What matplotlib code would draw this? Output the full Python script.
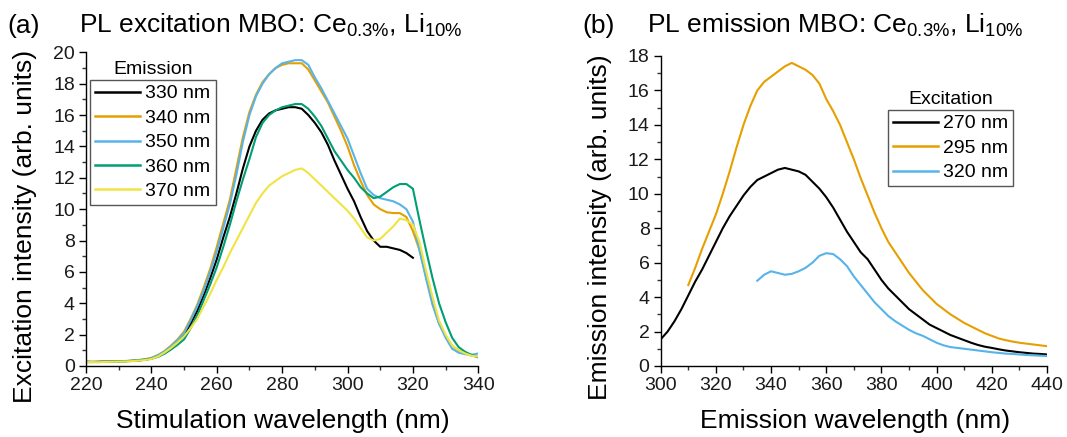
import matplotlib
matplotlib.use("Agg")
import matplotlib.pyplot as plt
import numpy as np
from matplotlib.ticker import MultipleLocator

plt.rcParams['font.family'] = ['Liberation Sans', 'DejaVu Sans']
plt.rcParams['mathtext.default'] = 'regular'

# ---------------- Panel (a): PL excitation ----------------
exc_wl = [220, 222, 224, 226, 228, 230, 232, 234, 236, 238,
          240, 242, 244, 246, 248, 250, 252, 254, 256, 258,
          260, 262, 264, 266, 268, 270, 272, 274, 276, 278,
          280, 282, 284, 286, 288, 290, 292, 294, 296, 298,
          300, 302, 304, 306, 308, 310, 312, 314, 316, 318,
          320, 322, 324, 326, 328, 330, 332, 334, 336, 338, 340]

em330 = [0.27, 0.26, 0.27, 0.28, 0.29, 0.30, 0.31, 0.33, 0.36, 0.40,
         0.48, 0.62, 0.85, 1.15, 1.55, 2.0, 2.7, 3.5, 4.5, 5.6,
         6.8, 8.2, 9.5, 11.0, 12.6, 14.0, 15.0, 15.7, 16.1, 16.3,
         16.4, 16.5, 16.5, 16.4, 16.0, 15.5, 14.9, 14.1, 13.1, 12.2,
         11.3, 10.5, 9.5, 8.6, 8.0, 7.6, 7.6, 7.5, 7.4, 7.2,
         6.9]

em340 = [0.27, 0.26, 0.26, 0.28, 0.29, 0.31, 0.32, 0.34, 0.38, 0.43,
         0.52, 0.70, 0.95, 1.30, 1.70, 2.2, 3.0, 3.9, 5.0, 6.2,
         7.6, 9.1, 10.6, 12.6, 14.6, 16.2, 17.3, 18.1, 18.6, 19.0,
         19.2, 19.3, 19.3, 19.3, 18.9, 18.2, 17.5, 16.8, 15.9, 15.0,
         14.0, 12.8, 11.8, 10.9, 10.3, 10.0, 9.8, 9.75, 9.75, 9.5,
         8.6, 7.4, 5.7, 4.0, 2.7, 1.9, 1.3, 0.95, 0.8, 0.65, 0.6]

em350 = [0.26, 0.26, 0.25, 0.27, 0.28, 0.30, 0.31, 0.33, 0.37, 0.42,
         0.50, 0.68, 0.92, 1.25, 1.65, 2.1, 2.9, 3.8, 4.8, 6.0,
         7.3, 8.8, 10.3, 12.2, 14.3, 16.0, 17.2, 18.0, 18.6, 19.0,
         19.3, 19.4, 19.5, 19.5, 19.2, 18.4, 17.7, 16.9, 16.1, 15.3,
         14.5, 13.4, 12.3, 11.3, 10.9, 10.7, 10.6, 10.5, 10.3, 10.0,
         9.2, 7.4, 5.6, 3.9, 2.7, 1.8, 1.1, 0.85, 0.75, 0.72, 0.8]

em360 = [0.25, 0.25, 0.26, 0.27, 0.28, 0.30, 0.30, 0.32, 0.35, 0.40,
         0.46, 0.58, 0.78, 1.05, 1.35, 1.7, 2.4, 3.2, 4.2, 5.2,
         6.3, 7.6, 9.0, 10.5, 11.9, 13.2, 14.6, 15.5, 16.0, 16.3,
         16.5, 16.6, 16.7, 16.7, 16.4, 15.9, 15.3, 14.5, 13.7, 13.1,
         12.5, 12.0, 11.4, 11.0, 10.7, 10.8, 11.1, 11.4, 11.6, 11.6,
         11.3, 9.3, 7.4, 5.6, 4.0, 2.8, 1.8, 1.2, 0.9, 0.7, 0.55]

em370 = [0.25, 0.25, 0.24, 0.26, 0.27, 0.28, 0.29, 0.31, 0.34, 0.38,
         0.45, 0.60, 0.85, 1.15, 1.5, 1.9, 2.4, 3.0, 3.8, 4.6,
         5.5, 6.3, 7.2, 8.0, 8.8, 9.6, 10.4, 11.0, 11.5, 11.8,
         12.1, 12.3, 12.5, 12.6, 12.3, 11.9, 11.5, 11.1, 10.7, 10.3,
         9.9, 9.4, 8.8, 8.2, 8.0, 8.1, 8.5, 8.9, 9.4, 9.3,
         9.0, 7.9, 6.1, 4.4, 2.9, 2.0, 1.3, 1.0, 0.8, 0.65, 0.6]

exc_series = [em330, em340, em350, em360, em370]
exc_labels = ['330 nm', '340 nm', '350 nm', '360 nm', '370 nm']

# ---------------- Panel (b): PL emission ----------------
emi_wl = [300, 302.5, 305, 307.5, 310, 312.5, 315, 317.5, 320, 322.5,
          325, 327.5, 330, 332.5, 335, 337.5, 340, 342.5, 345, 347.5,
          350, 352.5, 355, 357.5, 360, 362.5, 365, 367.5, 370, 372.5,
          375, 377.5, 380, 382.5, 385, 387.5, 390, 392.5, 395, 397.5,
          400, 402.5, 405, 407.5, 410, 412.5, 415, 417.5, 420, 422.5,
          425, 427.5, 430, 432.5, 435, 437.5, 440]

ex270 = [1.55, 2.0, 2.6, 3.3, 4.1, 4.9, 5.6, 6.4, 7.2, 8.0,
         8.7, 9.3, 9.9, 10.4, 10.8, 11.0, 11.2, 11.4, 11.5, 11.4,
         11.3, 11.1, 10.7, 10.3, 9.8, 9.2, 8.5, 7.8, 7.2, 6.6,
         6.2, 5.6, 5.0, 4.5, 4.1, 3.7, 3.3, 3.0, 2.7, 2.4,
         2.2, 2.0, 1.8, 1.65, 1.5, 1.35, 1.22, 1.12, 1.05, 0.97,
         0.9, 0.85, 0.8, 0.76, 0.72, 0.7, 0.67]
ex270_start = 300

ex295 = [4.7, 5.7, 6.8, 7.8, 8.8, 10.0, 11.3, 12.7, 14.0, 15.1,
         16.0, 16.5, 16.8, 17.1, 17.4, 17.6, 17.4, 17.2, 16.9, 16.4,
         15.5, 14.8, 14.0, 13.0, 12.0, 10.9, 9.9, 8.9, 8.0, 7.2,
         6.6, 6.0, 5.4, 4.9, 4.4, 4.0, 3.6, 3.3, 3.0, 2.75,
         2.5, 2.3, 2.1, 1.9, 1.75, 1.6, 1.5, 1.42, 1.35, 1.3,
         1.25, 1.2, 1.15]
ex295_start = 310

ex320 = [4.95, 5.3, 5.5, 5.4, 5.3, 5.35, 5.5, 5.7, 6.0, 6.4,
         6.55, 6.5, 6.2, 5.8, 5.2, 4.7, 4.2, 3.7, 3.3, 2.9,
         2.6, 2.35, 2.1, 1.9, 1.75, 1.55, 1.35, 1.2, 1.1, 1.05,
         1.0, 0.95, 0.9, 0.85, 0.8, 0.76, 0.72, 0.7, 0.67, 0.64,
         0.62, 0.6, 0.58]
ex320_start = 335

emi_series = [(ex270, ex270_start), (ex295, ex295_start), (ex320, ex320_start)]
emi_labels = ['270 nm', '295 nm', '320 nm']

exc_colors = ['#000000', '#E69F00', '#56B4E9', '#009E73', '#F0E442']
emi_colors = ['#000000', '#E69F00', '#56B4E9']

W, H = 1067, 437
fig = plt.figure(figsize=(W / 100, H / 100), dpi=100)

def fx(px):
    return px / W

def fy(py):
    return 1 - py / H

axA = fig.add_axes([fx(86), fy(366), fx(478.3 - 86), (366 - 52.3) / H])
axB = fig.add_axes([fx(660.7), fy(366), fx(1047 - 660.7), (366 - 56) / H])

for s, lab, c in zip(exc_series, exc_labels, exc_colors):
    axA.plot(exc_wl[:len(s)], s, color=c, lw=1.5, label=lab)

for (s, start), lab, c in zip(emi_series, emi_labels, emi_colors):
    i0 = emi_wl.index(start)
    axB.plot(emi_wl[i0:i0 + len(s)], s, color=c, lw=1.5, label=lab)

axA.set_xlim(220, 340)
axA.set_ylim(0, 20)
axA.xaxis.set_major_locator(MultipleLocator(20))
axA.xaxis.set_minor_locator(MultipleLocator(10))
axA.yaxis.set_major_locator(MultipleLocator(2))
axA.yaxis.set_minor_locator(MultipleLocator(1))

axB.set_xlim(300, 440)
axB.set_ylim(0, 18)
axB.xaxis.set_major_locator(MultipleLocator(20))
axB.xaxis.set_minor_locator(MultipleLocator(10))
axB.yaxis.set_major_locator(MultipleLocator(2))
axB.yaxis.set_minor_locator(MultipleLocator(1))

for ax in (axA, axB):
    for sp in ('top', 'right'):
        ax.spines[sp].set_visible(False)
    for sp in ('left', 'bottom'):
        ax.spines[sp].set_linewidth(1.0)
        ax.spines[sp].set_color('#000000')
    ax.tick_params(which='major', direction='out', length=5, width=1.0,
                   labelsize=14, colors='#000000', labelcolor='#1a1a1a', pad=3)
    ax.tick_params(which='minor', direction='out', length=3, width=1.0,
                   colors='#333333')

# Titles
fig.text(fx(7.5), fy(32.7), '(a)', fontsize=19, va='baseline', ha='left')
fig.text(fx(78.6), fy(32.7), r'PL excitation MBO: Ce$_{0.3\%}$, Li$_{10\%}$',
         fontsize=19, va='baseline', ha='left')
fig.text(fx(582.5), fy(32.7), '(b)', fontsize=19, va='baseline', ha='left')
fig.text(fx(647), fy(32.7), r'PL emission MBO: Ce$_{0.3\%}$, Li$_{10\%}$',
         fontsize=19, va='baseline', ha='left')

# Axis labels
fig.text(fx(24.6), fy(226.5), 'Excitation intensity (arb. units)', fontsize=19,
         rotation=90, ha='center', va='center')
fig.text(fx(600), fy(227.5), 'Emission intensity (arb. units)', fontsize=19,
         rotation=90, ha='center', va='center')
fig.text(fx(283), fy(428), 'Stimulation wavelength (nm)', fontsize=19,
         ha='center', va='baseline')
fig.text(fx(855), fy(428), 'Emission wavelength (nm)', fontsize=19,
         ha='center', va='baseline')

# Legends
legkw = dict(fontsize=14, frameon=True, fancybox=False, borderaxespad=0,
             handlelength=2.3, handletextpad=0.3, labelspacing=0.35,
             borderpad=0.25, bbox_transform=fig.transFigure, loc='upper left')
legA = axA.legend(bbox_to_anchor=(fx(90), fy(80)), **legkw)
legB = axB.legend(bbox_to_anchor=(fx(888), fy(110)), **legkw)
for leg in (legA, legB):
    fr = leg.get_frame()
    fr.set_edgecolor('#555555')
    fr.set_linewidth(1.0)
    fr.set_alpha(None)
    fr.set_facecolor('white')
    for line in leg.get_lines():
        line.set_linewidth(1.8)

fig.text(fx(153), fy(69), 'Emission', fontsize=14, ha='center', va='center')
fig.text(fx(951), fy(99.3), 'Excitation', fontsize=14, ha='center', va='center')

fig.savefig('out.png', dpi=100)
